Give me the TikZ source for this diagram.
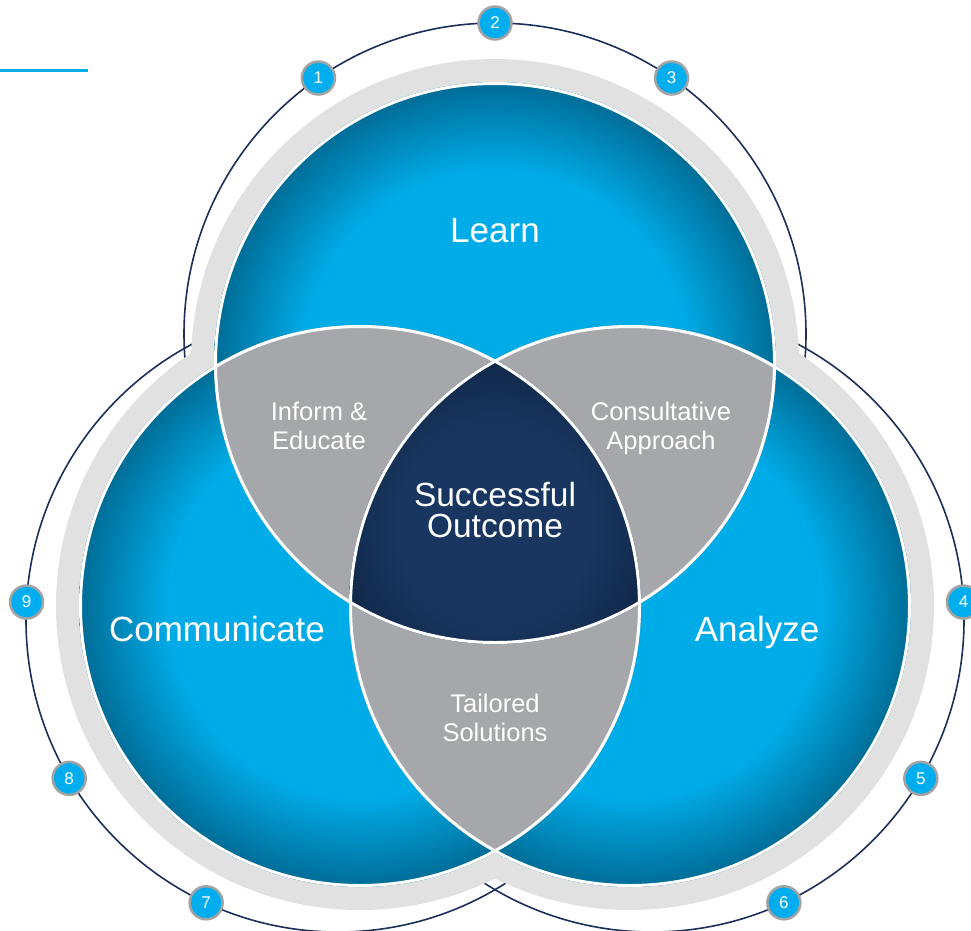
\documentclass[tikz,border=0pt]{standalone}
\usepackage{fontspec}
\setmainfont{Liberation Sans}
\usetikzlibrary{calc}

\definecolor{venncyan}{HTML}{00ACE8}
\definecolor{venndeep}{HTML}{006C96}
\definecolor{lensgray}{HTML}{A6A7AA}
\definecolor{ringgray}{HTML}{E1E1E1}
\definecolor{corenavy}{HTML}{18365F}
\definecolor{coredeep}{HTML}{0F2546}
\definecolor{orbitnavy}{HTML}{1B2F5A}
\definecolor{markgray}{HTML}{A3A3A3}
\definecolor{markcyan}{HTML}{00AEEF}

\pgfdeclareradialshading{blueball}{\pgfpoint{0bp}{0bp}}{color(0bp)=(venncyan); color(17bp)=(venncyan); color(25bp)=(venndeep); color(50bp)=(venndeep)}
\pgfdeclareradialshading{navycore}{\pgfpoint{0bp}{0bp}}{color(0bp)=(corenavy); color(14bp)=(corenavy); color(25bp)=(coredeep); color(50bp)=(coredeep)}

\begin{document}
\begin{tikzpicture}
[x=1pt, y=-1pt,
    orbit/.style={draw=orbitnavy, line width=1.6pt},
    marker/.style={circle, fill=markcyan, draw=markgray, line width=2.5pt,
    minimum size=33pt, inner sep=0pt, text=white,
    font=\fontsize{17}{17}\selectfont},
    bigtxt/.style={text=white, anchor=base, font=\fontsize{35}{38}\selectfont},
    coretxt/.style={text=white, align=center, font=\fontsize{33.5}{31}\selectfont},
    lenstxt/.style={text=white, align=center, font=\fontsize{25.5}{29}\selectfont},
    accent/.style={draw=markcyan, line width=3pt},
    ]

    \clip (0,0) rectangle (971,930);

    \coordinate (learn) at (495,363);
    \coordinate (comm) at (360,606);
    \coordinate (anal) at (630,606);
    \coordinate (lo) at (495,334);
    \coordinate (co) at (338,620);
    \coordinate (ao) at (652,620);

    % outer orbits, partly hidden by the rings
    \draw[orbit] (lo) circle (311);
    \draw[orbit] (co) circle (312);
    \draw[orbit] (ao) circle (312);

    \foreach \c in {learn,comm,anal}
        \fill[ringgray] (\c) circle (304);

    \foreach \c in {learn,comm,anal}
        \shade[shading=blueball] (\c) circle (281);

    \begin{scope}
        \clip (learn) circle (281);
        \fill[lensgray] (comm) circle (281);
        \fill[lensgray] (anal) circle (281);
    \end{scope}
    \begin{scope}
        \clip (comm) circle (281);
        \fill[lensgray] (anal) circle (281);
    \end{scope}
    \begin{scope}
        \clip (learn) circle (281);
        \clip (comm) circle (281);
        \clip (anal) circle (281);
        \shade[shading=navycore] (495,525) circle (175);
    \end{scope}

    \foreach \c in {learn,comm,anal}
        \draw[white, line width=3pt] (\c) circle (279.5);

    \node[bigtxt] (learn_lbl) at (495,242) {Learn};
    \node[bigtxt] (comm_lbl) at (217,641) {Communicate};
    \node[bigtxt] (anal_lbl) at (757,641) {Analyze};

    \node[coretxt] (core_lbl) at (495,510.5) {Successful\\Outcome};
    \node[lenstxt] (inform_lbl) at (319,425.5) {Inform \&\\Educate};
    \node[lenstxt] (consult_lbl) at (661,428) {Consultative\\Approach};
    \node[lenstxt] (tailor_lbl) at (495,717.5) {Tailored\\Solutions};

    \foreach \n/\c/\a/\r in {1/lo/235.4/311, 2/lo/270/311, 3/lo/304.6/311,
        4/ao/-3.3/312, 5/ao/30.5/312, 6/ao/65/312,
        7/co/115/312, 8/co/149.5/312, 9/co/183.3/312}
        \node[marker] (m\n) at ($(\c)+(\a:\r)$) {\n};

    \coordinate (bar_start) at (0,70);
    \coordinate (bar_end) at (88,70);
    \draw[accent] (bar_start) -- (bar_end);

\end{tikzpicture}
\end{document}
